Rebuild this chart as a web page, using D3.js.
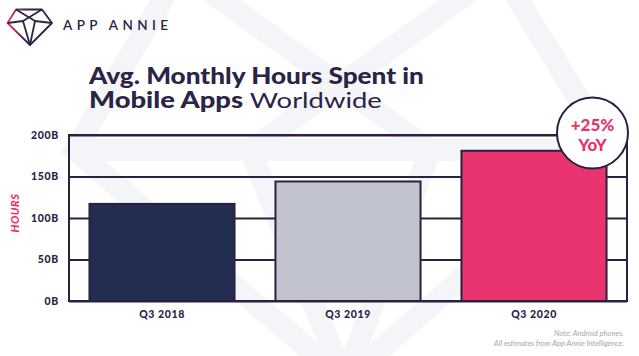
<!DOCTYPE html>
<html>
<head>
<meta charset="utf-8">
<script src="https://cdn.jsdelivr.net/npm/d3@7"></script>
<style>
  html, body { margin: 0; padding: 0; background: #ffffff; }
  svg { display: block; }
</style>
</head>
<body>
<svg id="chart" width="639" height="356"></svg>
<script>
// ---- data ----
const categories = ["Q3 2018", "Q3 2019", "Q3 2020"];
const hoursBillions = [117, 144, 181];
const tickValues = [0, 50, 100, 150, 200];
const tickLabels = ["0B", "50B", "100B", "150B", "200B"];
const barColors = ["#222d50", "#c1c4ce", "#ea346f"];
const titleLine1 = "Avg. Monthly Hours Spent in";
const titleLine2Bold = "Mobile Apps";
const titleLine2Rest = " Worldwide";
const badgeLines = ["+25%", "YoY"];
const noteLines = ["Note: Android phones.", "All estimates from App Annie Intelligence."];
const yAxisTitle = "HOURS";
const brand = "APP ANNIE";

(function () {
const ink = "#2a2446";
const pink = "#e8336e";
const FONT = "Lato, 'Open Sans', sans-serif";

const svg = d3.select("#chart");

// ---- faint watermark gem ----
const wm = svg.append("g").attr("fill", "none").attr("stroke", "#f4f5f8")
  .attr("stroke-width", 22).attr("stroke-linejoin", "miter");
wm.append("path").attr("d", "M180,-30 L500,-30 L610,150 L345,380 L75,150 Z");
wm.append("path").attr("d", "M75,150 L610,150");
wm.append("path").attr("d", "M180,-30 L430,150 L345,380 M500,-30 L250,150 L345,380");

// ---- logo ----
const logo = svg.append("g").attr("fill", "none").attr("stroke-width", 1.8).attr("stroke-linejoin", "round");
const grad = svg.append("defs").append("linearGradient").attr("id", "lg")
  .attr("x1", "0").attr("y1", "0").attr("x2", "1").attr("y2", "0");
grad.append("stop").attr("offset", "0").attr("stop-color", pink);
grad.append("stop").attr("offset", "0.45").attr("stop-color", ink);
logo.append("path").attr("stroke", "url(#lg)")
  .attr("d", "M16,9.5 L42,9.5 L52,23 L30,45 L7.5,23 Z");
logo.append("path").attr("stroke", ink)
  .attr("d", "M16,9.5 L35,21 L30,45 M42,9.5 L23,21 L30,45 M7.5,23 L23,21 M52,23 L35,21");
svg.append("text").attr("x", 63).attr("y", 29.5)
  .attr("font-family", FONT).attr("font-size", 13.5).attr("font-weight", 600)
  .attr("textLength", 105).attr("lengthAdjust", "spacing")
  .attr("fill", ink).text(brand);

// ---- title (font scaled horizontally to match the wide geometric face) ----
function fitLine(y, build, targetW) {
  const g = svg.append("g");
  const t = g.append("text").attr("x", 0).attr("y", y)
    .attr("font-family", FONT).attr("font-size", 22).attr("fill", ink);
  build(t);
  const w = t.node().getComputedTextLength();
  g.attr("transform", `translate(89,0) scale(${targetW / w},1)`);
}
fitLine(84, t => t.attr("font-weight", 900).text(titleLine1), 335);
fitLine(108.5, t => {
  t.append("tspan").attr("font-weight", 900).text(titleLine2Bold);
  t.append("tspan").attr("font-weight", 400).text(titleLine2Rest);
}, 293);

// ---- scales ----
const pLeft = 69, pRight = 627, pTop = 135, pBottom = 301;
const x = d3.scaleBand().domain(categories).range([pLeft, pRight])
  .paddingInner(0.22).paddingOuter(0.11);
const y = d3.scaleLinear().domain([0, 200]).range([pBottom, pTop]);

// ---- gridlines + y axis ----
const yAxis = d3.axisLeft(y).tickValues(tickValues)
  .tickSize(-(pRight - pLeft)).tickPadding(10)
  .tickFormat((d, i) => tickLabels[i]);
const gy = svg.append("g").attr("transform", `translate(${pLeft},0)`).call(yAxis);
gy.select(".domain").remove();
gy.selectAll(".tick line").attr("stroke", "#2a2040").attr("stroke-width", 2);
gy.selectAll(".tick text").attr("font-family", FONT).attr("font-size", 10.5)
  .attr("font-weight", 900).attr("letter-spacing", 0.7).attr("fill", ink);

// frame
svg.append("rect").attr("x", pLeft).attr("y", pTop)
  .attr("width", pRight - pLeft).attr("height", pBottom - pTop)
  .attr("fill", "none").attr("stroke", "#2a2040").attr("stroke-width", 2);

// ---- bars ----
svg.append("g").selectAll("rect").data(hoursBillions).join("rect")
  .attr("x", (d, i) => x(categories[i]))
  .attr("y", d => y(d))
  .attr("width", x.bandwidth())
  .attr("height", d => y(0) - y(d))
  .attr("fill", (d, i) => barColors[i])
  .attr("stroke", "#2a2040").attr("stroke-width", 2);

// ---- x axis labels ----
const xAxis = d3.axisBottom(x).tickSize(0).tickPadding(10);
const gx = svg.append("g").attr("transform", `translate(0,${pBottom})`).call(xAxis);
gx.select(".domain").remove();
gx.selectAll(".tick text").attr("font-family", FONT).attr("font-size", 10.5)
  .attr("font-weight", 900).attr("letter-spacing", 0.6).attr("fill", ink);

// ---- y title ----
svg.append("text").attr("transform", "translate(18.5,213) rotate(-90)")
  .attr("text-anchor", "middle").attr("font-family", FONT).attr("font-size", 11)
  .attr("font-weight", 900).attr("font-style", "italic").attr("letter-spacing", 0.5)
  .attr("fill", pink).text(yAxisTitle);

// ---- badge ----
const bx = 592.5, by = 133;
svg.append("circle").attr("cx", bx).attr("cy", by).attr("r", 35.5)
  .attr("fill", "#ffffff").attr("stroke", "#2a2040").attr("stroke-width", 2);
svg.append("text").attr("x", bx).attr("y", 130.5).attr("text-anchor", "middle")
  .attr("font-family", FONT).attr("font-size", 17).attr("font-weight", 900)
  .attr("fill", pink).text(badgeLines[0]);
svg.append("text").attr("x", bx).attr("y", 150.5).attr("text-anchor", "middle")
  .attr("font-family", FONT).attr("font-size", 17).attr("font-weight", 900)
  .attr("fill", pink).text(badgeLines[1]);

// ---- notes ----
svg.append("g").selectAll("text").data(noteLines).join("text")
  .attr("x", 624).attr("y", (d, i) => 336 + i * 10)
  .attr("text-anchor", "end").attr("font-family", FONT).attr("font-size", 7.6)
  .attr("font-style", "italic").attr("fill", "#a3a6b0").text(d => d);
})();
</script>
</body>
</html>
